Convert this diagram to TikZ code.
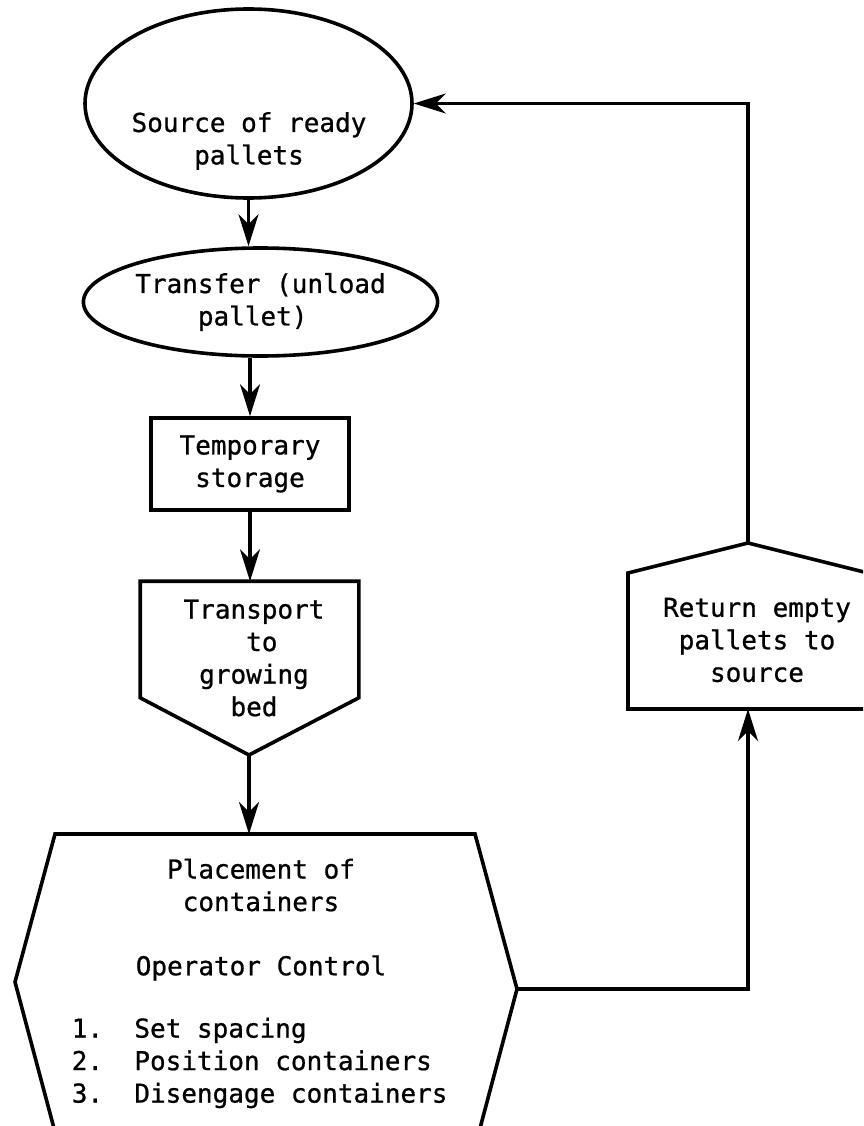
\documentclass[tikz,border=0pt]{standalone}
\usepackage{fontspec}
\newfontfamily\flowfam[FakeBold=0.8]{DejaVu Sans Mono}
\usetikzlibrary{shapes.geometric,arrows.meta}
\newcommand\flowfont{\flowfam\fontsize{26}{32.5}\selectfont}
\begin{document}
\begin{tikzpicture}[x=1pt,y=-1pt,
  line width=3.6pt,
  txt/.style={font=\flowfont, inner sep=0pt, align=center},
  flow/.style={-{Stealth[length=32pt,width=20pt,inset=10pt]}},
]
\useasboundingbox (0,0) rectangle (863,1126);
\clip (0,0) rectangle (863,1126);

% --- main column ---
\node[ellipse, draw, minimum width=327pt, minimum height=189pt, inner sep=0pt] (src) at (248.5,103.5) {};
\node[txt] (srctext) at (249,141) {Source of ready\\pallets};

\node[ellipse, draw, minimum width=307pt, minimum height=108pt, inner sep=0pt, txt, align=left] (xfer) at (260.5,302)
  {Transfer (unload\\\phantom{xxxx}pallet)};

\node[draw, minimum width=198pt, minimum height=92pt, txt] (tmp) at (250,464) {Temporary\\storage};

% transport: box with a pointed bottom
\node[minimum width=215pt, minimum height=113pt, inner sep=0pt] (trn) at (249.5,639.5) {};
\coordinate (trnapex) at (249,755);
\draw (trn.north west) -- (trn.north east) -- (trn.south east) -- (trnapex) -- (trn.south west) -- cycle;
\node[txt, align=left] (trntext) at (254,658)
  {Transport\\\phantom{xxxx}to\\\phantom{x}growing\\\phantom{xxx}bed};

% placement: large hexagon running off the bottom
\coordinate (plcbl) at (55,1132);
\coordinate (plcleft) at (15,982);
\coordinate (plctl) at (55,834);
\coordinate (plctop) at (249,834);
\coordinate (plctr) at (475,834);
\coordinate (plcright) at (517,989);
\coordinate (plcbr) at (479,1132);
\draw (plcbl) -- (plcleft) -- (plctl) -- (plctr) -- (plcright) -- (plcbr);
\node[txt] (plctitle) at (261,885) {Placement of\\containers};
\node[txt] (plcctrl) at (261,968) {Operator Control};
\node[txt, align=left, anchor=west] (plclist) at (70,1063)
  {1.\phantom{xx}Set spacing\\2.\phantom{xx}Position containers\\3.\phantom{xx}Disengage containers};

% --- return branch ---
\coordinate (retapex) at (748,543);
\coordinate (rettl) at (628,573);
\coordinate (rettr) at (868,573);
\coordinate (retbr) at (868,709);
\coordinate (retbl) at (628,709);
\coordinate (retbase) at (748,709);
\draw (retapex) -- (rettr) -- (retbr) -- (retbl) -- (rettl) -- cycle;
\node[txt] (rettext) at (757,640) {Return empty\\pallets to\\source};

% --- connectors ---
\draw[flow] (src.south) -- (src.south |- xfer.north);
\draw[flow] (tmp.north |- xfer.south) -- (tmp.north);
\draw[flow] (tmp.south) -- (tmp.south |- trn.north);
\draw[flow] (trnapex) -- (plctop);
\draw[flow] (plcright) -| (retbase);
\draw[flow] (retapex) |- (src.east);
\end{tikzpicture}
\end{document}
